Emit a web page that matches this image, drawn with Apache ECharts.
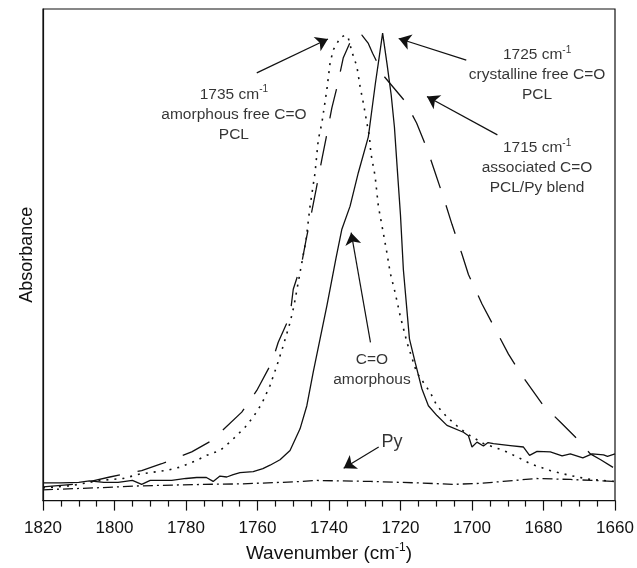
<!DOCTYPE html>
<html>
<head>
<meta charset="utf-8">
<script src="https://cdn.jsdelivr.net/npm/echarts@6/dist/echarts.min.js"></script>
<style>
html,body{margin:0;padding:0;background:#fff;}
#chart{width:637px;height:568px;}
</style>
</head>
<body>
<div id="chart"></div>
<script>
// Wavenumber (cm-1) and absorbance (arbitrary units, 0-100 of plot height)
const crystallinePCL = [
  [1820,3.6],[1815,3.6],[1810,3.7],[1807,4.0],[1803,3.7],[1799,3.7],[1795,4.1],[1792.4,3.3],
  [1790,4.1],[1784,4.1],[1780,4.5],[1777,4.7],[1774.3,4.7],[1772.4,3.9],[1770.5,5.0],[1768.6,4.8],
  [1766.8,5.3],[1764.9,5.7],[1761.2,5.9],[1758.5,6.5],[1756.5,7.2],[1753.7,8.3],[1750.9,10.2],
  [1748.1,14.6],[1746.2,19.3],[1744.4,26.2],[1742.5,32.9],[1740.6,39.6],[1739.7,43.0],[1738.0,49.5],
  [1736.4,55.2],[1734.1,59.9],[1731.8,66.7],[1729.0,74.0],[1728.0,79.5],[1727.0,85.0],[1726.0,90.0],
  [1725.0,95.1],[1723.8,89.0],[1722.6,82.5],[1721.7,76.0],[1721.0,68.5],[1720.0,58.0],[1719.2,47.0],
  [1717.5,32.9],[1715.9,28.1],[1714.0,22.7],[1712.2,19.3],[1709.8,17.3],[1707.0,15.3],[1702.4,13.9],
  [1701.0,13.2],[1700.0,10.9],[1698.6,11.9],[1696.8,11.1],[1695.5,11.8],[1694.0,11.6],[1689.3,11.2],
  [1685.6,10.9],[1683.9,9.2],[1681.8,10.0],[1678.1,9.9],[1674.8,9.1],[1672.5,9.5],[1669.0,8.7],
  [1666.4,9.5],[1663.2,9.3],[1662.1,9.0],[1660,9.5]
];
const amorphousPCL = [
  [1820,2.6],[1812.5,3.0],[1804,4.1],[1797.6,4.5],[1792.9,5.4],[1785,6.2],[1781.7,6.8],[1777,8.2],
  [1774.2,9.2],[1770.5,10.2],[1767.7,11.9],[1763.5,14.9],[1761.2,17.0],[1758.8,19.7],[1756.5,23.4],
  [1754.6,27.4],[1752.8,31.5],[1750.9,36.2],[1749.8,39.6],[1748.1,46.4],[1746.4,53.1],[1745.3,59.9],
  [1743.9,66.7],[1743.0,73.4],[1742.0,76.8],[1740.6,83.6],[1739.7,89.0],[1738.8,91.7],[1736.9,94.1],
  [1735.5,94.7],[1734.6,94.1],[1733.6,91.3],[1732.2,88.3],[1731.3,84.2],[1730.4,80.9],[1729.4,76.8],
  [1728.7,74.1],[1728.3,70.7],[1727.1,66.0],[1726.2,59.9],[1725.0,55.2],[1723.8,50.4],[1722.9,46.4],
  [1721.5,42.3],[1720.1,37.6],[1719.0,34.5],[1718.2,32.2],[1715.5,26.1],[1711.7,22.0],[1709.8,19.3],
  [1707.0,17.0],[1703.3,14.6],[1700.5,13.2],[1696.8,11.6],[1691.2,10.2],[1687.4,8.9],[1683.7,7.5],
  [1678.1,6.1],[1672.5,5.1],[1666.9,4.3],[1660,3.9]
];
const blendPCLPy = [
  [1820,2.8],[1809.7,3.4],[1801.3,4.8],[1792.4,6.1],[1786.8,7.5],[1778.4,9.9],[1772.8,12.2],
  [1764.4,18.0],[1760.2,22.4],[1756.0,28.1],[1754.2,32.2],[1750.9,37.6],[1750.0,43.0],[1747.6,48.4],
  [1746.4,53.1],[1744.8,58.9],[1743.6,63.3],[1742.0,69.4],[1740.8,73.8],[1739.2,79.9],[1737.8,84.0],
  [1736.0,90.1],[1733.2,94.7],[1732.2,95.1],[1730.8,94.7],[1729.0,93.0],[1727.8,91.0],[1724.6,86.3],
  [1718.7,81.2],[1715.5,76.8],[1713.6,73.4],[1712.2,70.8],[1710.3,66.7],[1707.5,60.6],[1705.6,56.2],
  [1702.8,50.1],[1701.0,46.0],[1697.2,40.0],[1693.5,34.9],[1689.8,29.8],[1686.0,25.4],[1680.0,19.3],
  [1675.3,16.0],[1670.5,12.5],[1666.9,9.5],[1664,8.3],[1660,6.5]
];
const pyridine = [
  [1820,2.2],[1805,2.6],[1792.9,3.0],[1787.3,3.1],[1775,3.3],[1764.9,3.4],[1750,3.8],[1743.4,4.1],
  [1728.5,3.9],[1715,3.6],[1705.3,3.3],[1698,3.5],[1691.3,3.9],[1682.0,4.5],[1672.5,4.3],[1660,3.9]
];
const xMin = 1660, xMax = 1820, xInterval = 20;

const annotationTexts = [
  '{t|1735 cm}{s|-1}\n{t|amorphous free C=O}\n{t|PCL}',
  '{t|1725 cm}{s|-1}\n{t|crystalline free C=O}\n{t|PCL}',
  '{t|1715 cm}{s|-1}\n{t|associated C=O}\n{t|PCL/Py blend}',
  '{t|C=O}\n{t|amorphous}',
  '{p|Py}'
];
const annotationAnchors = [[1766.6,78.5],[1681.8,86.6],[1681.8,67.7],[1728.0,26.6],[1722.4,12.0]];
const arrows = [
  [[1760.2,87.0],[1740.3,93.9]],
  [[1701.6,89.6],[1720.5,94.0]],
  [[1692.9,74.4],[1712.6,82.2]],
  [[1728.4,32.2],[1733.8,54.5]],
  [[1726.1,10.9],[1735.9,6.6]]
];

const FONT = '"Liberation Sans", Arial, Helvetica, sans-serif';
const INK = '#111';

const chart = echarts.init(document.getElementById('chart'), null, {renderer: 'canvas'});

function lineSeries(name, data, type, width) {
  return {
    name: name, type: 'line', data: data, showSymbol: false, symbol: 'none',
    smooth: false, animation: false, z: 3, clip: true,
    lineStyle: {color: INK, width: width, type: type, cap: 'butt'}
  };
}

const option = {
  animation: false,
  backgroundColor: '#fff',
  grid: {left: 43, right: 22, top: 9, bottom: 66, show: true, borderColor: INK, borderWidth: 1.2, backgroundColor: 'transparent'},
  xAxis: {
    type: 'value', inverse: true, min: xMin, max: xMax, interval: xInterval,
    name: '{a|Wavenumber (cm}{s|-1}{a|)}', nameLocation: 'middle', nameGap: 34,
    nameTextStyle: {
      fontFamily: FONT, color: INK,
      rich: {
        a: {fontSize: 19, fontFamily: FONT, color: INK, lineHeight: 24},
        s: {fontSize: 12, fontFamily: FONT, color: INK, lineHeight: 24, verticalAlign: 'top'}
      }
    },
    axisLine: {show: true, onZero: false, lineStyle: {color: INK, width: 1.2}},
    axisTick: {show: true, inside: false, length: 10, lineStyle: {color: INK, width: 1.2}},
    minorTick: {show: true, splitNumber: 4, length: 6, lineStyle: {color: INK, width: 1.2}},
    axisLabel: {fontSize: 17, fontFamily: FONT, color: INK, margin: 19,
      formatter: function (v) { return String(v); }},
    splitLine: {show: false}, minorSplitLine: {show: false}
  },
  yAxis: {
    type: 'value', min: 0, max: 100,
    name: 'Absorbance', nameLocation: 'middle', nameGap: 7, nameRotate: 90,
    nameTextStyle: {fontSize: 18, fontFamily: FONT, color: INK},
    axisLine: {show: true, onZero: false, lineStyle: {color: INK, width: 1.2}},
    axisTick: {show: false}, axisLabel: {show: false}, splitLine: {show: false}
  },
  series: [
    lineSeries('Py', pyridine, [10, 4, 2, 4], 1.3),
    lineSeries('PCL/Py blend', blendPCLPy, [30, 18], 1.3),
    lineSeries('amorphous PCL', amorphousPCL, [2, 6], 1.6),
    lineSeries('crystalline PCL', crystallinePCL, 'solid', 1.3),
    {
      name: 'annotations', type: 'scatter', symbolSize: 0, silent: true, z: 5,
      data: annotationAnchors.map(function (p, i) {
        return {value: p, label: {formatter: annotationTexts[i]}};
      }),
      label: {
        show: true, position: 'inside', align: 'center', verticalAlign: 'middle',
        fontFamily: FONT, color: '#000',
        rich: {
          t: {fontSize: 15.5, fontFamily: FONT, color: '#000', lineHeight: 20},
          s: {fontSize: 10, fontFamily: FONT, color: '#000', lineHeight: 20, verticalAlign: 'top'},
          p: {fontSize: 18, fontFamily: FONT, color: '#000', lineHeight: 22}
        }
      }
    },
    {
      name: 'arrows', type: 'line', data: [], silent: true, z: 6,
      markLine: {
        silent: true, animation: false,
        symbol: ['none', 'arrow'], symbolSize: 12,
        label: {show: false},
        emphasis: {disabled: true},
        lineStyle: {color: INK, width: 1.2, type: 'solid', opacity: 1},
        itemStyle: {color: INK},
        data: arrows.map(function (a) { return [{coord: a[0]}, {coord: a[1]}]; })
      }
    }
  ]
};
chart.setOption(option);
</script>
</body>
</html>
